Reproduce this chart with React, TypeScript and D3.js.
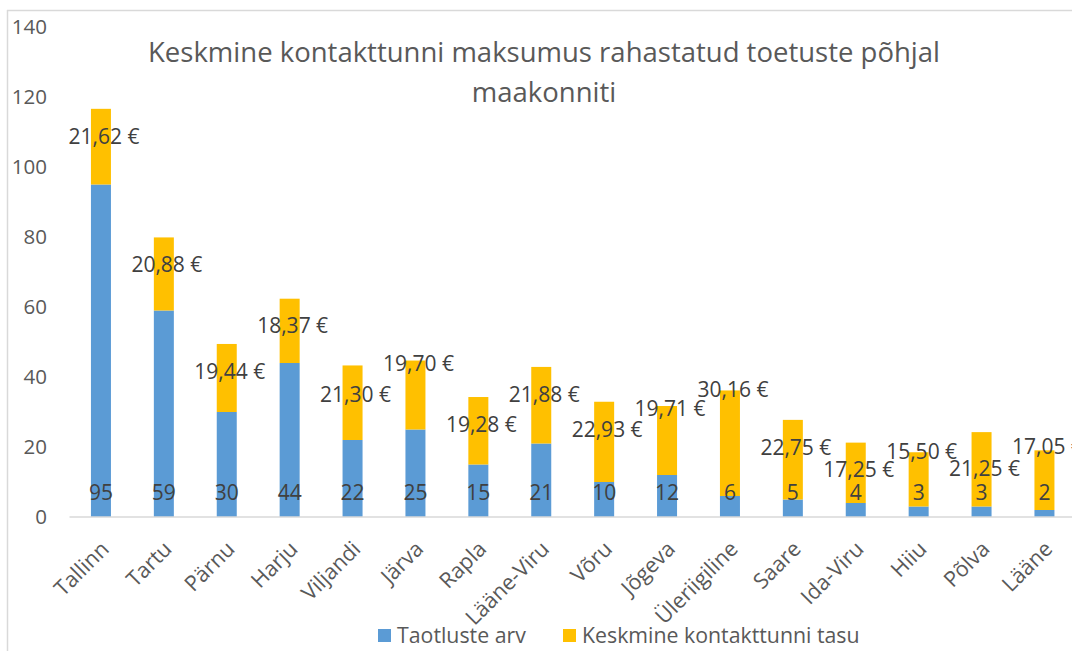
import React from "react";
import * as d3 from "d3";

const categories = ["Tallinn", "Tartu", "Pärnu", "Harju", "Viljandi", "Järva", "Rapla", "Lääne-Viru", "Võru", "Jõgeva", "Üleriigiline", "Saare", "Ida-Viru", "Hiiu", "Põlva", "Lääne"];
const taotlusteArv = [95, 59, 30, 44, 22, 25, 15, 21, 10, 12, 6, 5, 4, 3, 3, 2];
const tasu = [21.62, 20.88, 19.44, 18.37, 21.30, 19.70, 19.28, 21.88, 22.93, 19.71, 30.16, 22.75, 17.25, 15.50, 21.25, 17.05];
// where each tasu label sits, in axis units
const tasuLabelAt = [108.7, 72, 41.4, 54.6, 34.9, 43.7, 26.3, 34.9, 24.9, 31.1, 36.3, 19.7, 13.4, 18.6, 13.7, 20];
const yTicks = [0, 20, 40, 60, 80, 100, 120, 140];
const seriesNames = ["Taotluste arv", "Keskmine kontakttunni tasu"];
const titleLines = ["Keskmine kontakttunni maksumus rahastatud toetuste põhjal", "maakonniti"];

const W = 1072, H = 651;
const FONT = "'Open Sans', sans-serif";
const BLUE = "#5B9BD5", YELLOW = "#FFC000";

export default function App() {
  const x0 = 69.5, step = 62.9;
  const x = d3.scaleBand<string>().domain(categories).range([x0, x0 + step * categories.length]).paddingInner(0.682).paddingOuter(0.341);
  const y = d3.scaleLinear().domain([0, 140]).range([517, 27]);
  const fmt = (v: number) => v.toFixed(2).replace(".", ",") + " €";

  return (
    <svg width={W} height={H} style={{ position: "absolute", left: 0, top: 0, background: "#fff" }} fontFamily={FONT}>
      <rect x={0} y={0} width={W} height={H} fill="#fff" />
      <line x1={7} x2={W} y1={10.5} y2={10.5} stroke="#d9d9d9" strokeWidth={1.5} />
      <line x1={7.5} x2={7.5} y1={10} y2={H} stroke="#d9d9d9" strokeWidth={1.5} />

      {titleLines.map((t, i) => (
        <text key={t} x={544} y={52 + i * 40} textAnchor="middle" dy="0.35em" fontSize={27.5} fill="#595959">{t}</text>
      ))}

      {yTicks.map((t) => (
        <text key={t} x={47} y={y(t)} textAnchor="end" dy="0.35em" fontSize={20.5} fill="#595959">{t}</text>
      ))}

      {categories.map((c, i) => {
        const bx = x(c)!;
        const bw = x.bandwidth();
        const a = taotlusteArv[i];
        const b = tasu[i];
        return (
          <g key={c}>
            <rect x={bx} y={y(a)} width={bw} height={y(0) - y(a)} fill={BLUE} />
            <rect x={bx} y={y(a + b)} width={bw} height={y(a) - y(a + b)} fill={YELLOW} />
          </g>
        );
      })}

      <line x1={x0} x2={W} y1={y(0)} y2={y(0)} stroke="#d9d9d9" strokeWidth={1.5} />

      {categories.map((c, i) => {
        const cx = x(c)! + x.bandwidth() / 2;
        return (
          <g key={"l" + c}>
            <text x={cx} y={y(0) - 24} textAnchor="middle" dy="0.35em" fontSize={21} fill="#404040">{taotlusteArv[i]}</text>
            <text x={cx + 3} y={y(tasuLabelAt[i])} textAnchor="middle" dy="0.35em" fontSize={21} fill="#404040">{fmt(tasu[i])}</text>
            <text transform={`translate(${cx + 4},545) rotate(-45)`} textAnchor="end" dy="0.35em" fontSize={21.5} fill="#595959">{c}</text>
          </g>
        );
      })}

      <g>
        <rect x={378} y={629} width={13} height={13} fill={BLUE} />
        <text x={397} y={636} dy="0.35em" fontSize={21.3} fill="#595959">{seriesNames[0]}</text>
        <rect x={563} y={629} width={13} height={13} fill={YELLOW} />
        <text x={582} y={636} dy="0.35em" fontSize={21.3} fill="#595959">{seriesNames[1]}</text>
      </g>
    </svg>
  );
}
